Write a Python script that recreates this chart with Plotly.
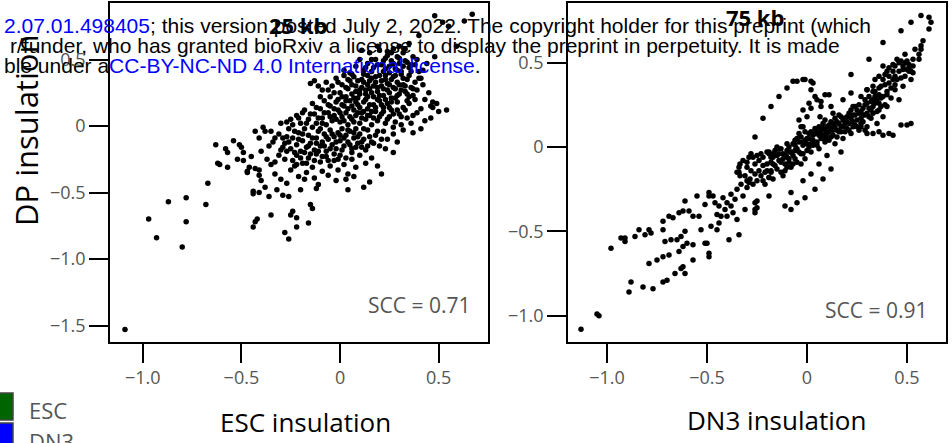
import plotly.graph_objects as go

# ---------------- data ----------------
# Panel 1: 25 kb, x = ESC insulation, y = DP insulation
p25_tail = [(-1.09,-1.53),(-0.97,-0.70),(-0.93,-0.84),(-0.87,-0.57),(-0.80,-0.91),(-0.78,-0.54),(-0.78,-0.72),
    (-0.68,-0.59),(-0.67,-0.43),(-0.63,-0.14),(-0.62,-0.28),(-0.61,-0.29),(-0.58,-0.17),(-0.57,-0.20),(-0.57,-0.31),
    (-0.54,-0.11),(-0.51,-0.14),(-0.50,-0.16),(-0.49,-0.20),(-0.52,-0.25),(-0.49,-0.26),(-0.47,-0.35),
    (-0.44,-0.76),(-0.43,-0.72),(-0.42,-0.70),(-0.44,-0.49),(-0.44,-0.51),(-0.43,-0.04),(-0.45,-0.23),(-0.41,-0.09),
    (-0.43,-0.32),(-0.41,-0.37),(-0.40,-0.41),(-0.38,-0.46),(-0.35,-0.67),(-0.28,-0.80),(-0.26,-0.85),(-0.25,-0.67),
    (-0.24,-0.64),(-0.22,-0.69),(-0.22,-0.76),(-0.16,-0.73),(-0.15,-0.59),(-0.14,-0.62),
    (0.04,-0.48),(0.12,-0.46),(0.15,-0.42),(0.21,-0.36),(0.27,-0.20),(0.37,-0.05),(0.41,-0.02),(0.46,0.06),
    (0.50,0.11),(0.47,0.18),(0.41,0.13),(0.46,0.15),(0.32,-0.03),(0.38,0.20),(0.37,0.28)]
p25_left = [(-0.39,-0.01),(-0.38,-0.04),(-0.35,-0.04),(-0.33,-0.09),(-0.36,-0.15),(-0.40,-0.19),(-0.37,-0.25),
    (-0.46,-0.31),(-0.47,-0.34),(-0.41,-0.33),(-0.35,-0.29),(-0.33,-0.36),(-0.32,-0.48),(-0.30,-0.40),(-0.27,-0.43),
    (-0.26,-0.53),(-0.29,-0.52),(-0.36,-0.53),(-0.41,-0.50),(-0.31,-0.22),(-0.29,-0.16),(-0.27,-0.08),(-0.30,0.02),
    (-0.25,0.05),(-0.23,-0.30),(-0.20,-0.48),(-0.12,-0.47),(-0.11,-0.44),(-0.02,-0.41),(0.03,-0.40)]
p25_low = [(-0.28,-0.25),(-0.25,-0.33),(-0.22,-0.22),(-0.21,-0.38),(-0.19,-0.28),(-0.17,-0.35),(-0.16,-0.24),
    (-0.14,-0.31),(-0.13,-0.39),(-0.12,-0.21),(-0.10,-0.27),(-0.09,-0.34),(-0.07,-0.23),(-0.06,-0.37),(-0.05,-0.30),
    (-0.03,-0.26),(-0.01,-0.33),(0.00,-0.22),(0.02,-0.29),(0.04,-0.36),(0.06,-0.25),(0.08,-0.31),(0.10,-0.22),
    (0.13,-0.28),(0.16,-0.24),(0.19,-0.30),(-0.33,-0.27),(-0.18,-0.40),(0.07,-0.38)]
p25_mid = [(-0.34,-0.12),(-0.31,-0.06),(-0.30,-0.18),(-0.28,-0.13),(-0.26,-0.02),(-0.25,-0.17),(-0.24,-0.09),
    (-0.22,-0.14),(-0.21,-0.05),(-0.20,-0.19),(-0.19,-0.11),(-0.18,-0.02),(-0.17,-0.16),(-0.16,-0.07),(-0.15,-0.13),
    (-0.14,-0.01),(-0.13,-0.18),(-0.12,-0.09),(-0.11,-0.04),(-0.10,-0.15),(-0.09,-0.12),(-0.08,-0.06),(-0.07,-0.19),
    (-0.06,-0.10),(-0.05,-0.03),(-0.04,-0.14),(-0.03,-0.08),(-0.02,-0.17),(-0.01,-0.05),(0.00,-0.11),(0.01,-0.02),
    (0.02,-0.15),(0.03,-0.07),(0.04,-0.12),(0.05,-0.04),(0.06,-0.17),(0.07,-0.09),(0.08,-0.02),(0.09,-0.13),
    (0.10,-0.06),(0.12,-0.10),(0.13,-0.18),(0.14,-0.03),(0.16,-0.12),(0.18,-0.07),(0.20,-0.15),(0.22,-0.04),
    (0.24,-0.10),(0.27,-0.06),(0.29,-0.12),(-0.23,-0.20),(0.11,-0.16)]
p25_up = [(-0.27,0.03),(-0.22,0.08),(-0.20,0.02),(-0.18,0.12),(-0.16,0.05),(-0.14,0.17),(-0.13,0.09),(-0.12,0.02),
    (-0.10,0.13),(-0.09,0.06),(-0.08,0.19),(-0.07,0.01),(-0.06,0.10),(-0.05,0.15),(-0.04,0.04),(-0.03,0.08),
    (-0.02,0.18),(-0.01,0.12),(0.00,0.03),(0.01,0.07),(0.02,0.15),(0.03,0.10),(0.04,0.01),(0.05,0.19),(0.06,0.05),
    (0.07,0.12),(0.08,0.08),(0.09,0.16),(0.10,0.02),(0.11,0.10),(0.12,0.18),(0.13,0.05),(0.14,0.13),(0.15,0.08),
    (0.16,0.01),(0.17,0.16),(0.18,0.11),(0.19,0.04),(0.20,0.19),(0.21,0.09),(0.22,0.14),(0.23,0.02),(0.24,0.17),
    (0.25,0.07),(0.26,0.12),(0.28,0.03),(0.29,0.18),(0.30,0.09),(0.32,0.14),(0.34,0.06),(0.35,0.17),(0.36,0.02),
    (0.39,0.10),(0.43,0.04),(0.31,0.01),(0.27,-0.01)]
p25_high = [(-0.15,0.32),(-0.13,0.34),(-0.11,0.30),(-0.09,0.27),(-0.07,0.33),(-0.05,0.22),(-0.04,0.30),(-0.02,0.36),
    (0.00,0.25),(0.01,0.31),(0.02,0.38),(0.03,0.22),(0.04,0.28),(0.05,0.34),(0.06,0.24),(0.07,0.37),(0.08,0.30),
    (0.09,0.21),(0.10,0.27),(0.11,0.35),(0.12,0.39),(0.13,0.24),(0.14,0.31),(0.15,0.28),(0.16,0.36),(0.17,0.22),
    (0.18,0.33),(0.19,0.26),(0.20,0.38),(0.21,0.30),(0.22,0.23),(0.23,0.35),(0.24,0.27),(0.25,0.31),(0.26,0.21),
    (0.27,0.37),(0.28,0.28),(0.29,0.33),(0.30,0.24),(0.31,0.39),(0.32,0.31),(0.33,0.26),(0.34,0.35),(0.35,0.22),
    (0.37,0.23),(0.40,0.36),(0.41,0.36),(0.42,0.31),(0.45,0.25),(0.49,0.17),(0.47,0.14),(0.43,0.20),(0.54,0.12),
    (-0.10,0.22),(0.06,0.39),(0.14,0.38)]
p25_top = [(0.08,0.45),(0.10,0.50),(0.12,0.42),(0.14,0.47),(0.15,0.55),(0.17,0.44),(0.18,0.50),(0.20,0.57),
    (0.21,0.46),(0.22,0.41),(0.24,0.53),(0.25,0.45),(0.26,0.49),(0.27,0.58),(0.28,0.43),(0.29,0.52),(0.30,0.47),
    (0.31,0.41),(0.32,0.55),(0.33,0.49),(0.35,0.44),(0.36,0.46),(0.37,0.52),(0.39,0.50),(0.40,0.41),(0.42,0.42),
    (0.44,0.47),(0.48,0.52),(0.05,0.40),(0.02,0.42),(0.19,0.60),(0.11,0.57),
    (0.67,0.84),(0.63,0.79),(0.48,0.83),(0.52,0.78),(0.55,0.75),(0.40,0.68),(0.35,0.62),(0.59,0.60),(0.33,0.58),
    (0.30,0.60),(0.26,0.55),(0.23,0.51)]
p25_core = [(-0.29,-0.09),(-0.27,-0.19),(-0.26,-0.12),(-0.24,-0.26),(-0.23,-0.04),(-0.22,-0.29),(-0.21,-0.10),
    (-0.20,-0.24),(-0.19,-0.06),(-0.18,-0.20),(-0.17,-0.28),(-0.16,-0.15),(-0.15,-0.21),(-0.14,-0.09),(-0.13,-0.26),
    (-0.12,-0.13),(-0.11,-0.19),(-0.10,-0.02),(-0.09,-0.23),(-0.08,-0.15),(-0.07,-0.08),(-0.06,-0.26),(-0.05,-0.17),
    (-0.04,-0.06),(-0.03,-0.21),(-0.02,-0.12),(-0.01,-0.25),(0.00,-0.07),(0.01,-0.18),(0.02,-0.09),(0.03,-0.24),
    (0.04,-0.03),(0.05,-0.14),(0.06,-0.20),(0.07,-0.05),(0.08,-0.16),(0.09,-0.08),(0.11,-0.12),(0.12,-0.02),
    (0.14,-0.15),(0.15,-0.08),(0.17,-0.13),(0.19,-0.04),(0.21,-0.10),(0.23,-0.17),
    (-0.24,0.01),(-0.21,0.06),(-0.19,0.10),(-0.17,0.02),(-0.15,0.09),(-0.12,0.14),(-0.11,0.06),(-0.09,0.02),
    (-0.08,0.10),(-0.06,0.16),(-0.05,0.07),(-0.03,0.13),(-0.02,0.05),(-0.01,0.20),(0.00,0.10),(0.01,0.16),
    (0.02,0.04),(0.03,0.19),(0.04,0.13),(0.05,0.07),(0.06,0.15),(0.07,0.03),(0.08,0.18),(0.09,0.10),(0.10,0.14),
    (0.11,0.06),(0.12,0.11),(0.13,0.20),(0.14,0.08),(0.15,0.16),(0.16,0.11),(0.17,0.06),(0.18,0.14),(0.19,0.20),
    (0.20,0.07),(0.21,0.16),(0.22,0.11),(0.23,0.20),(0.24,0.05),(0.25,0.14),(0.26,0.18),(0.27,0.09),(0.28,0.21),
    (0.29,0.12),(0.31,0.07),(0.33,0.12),(0.34,0.19),(0.37,0.08),
    (-0.06,0.27),(-0.03,0.25),(-0.01,0.33),(0.01,0.22),(0.03,0.29),(0.04,0.35),(0.06,0.31),(0.07,0.21),(0.08,0.26),
    (0.09,0.34),(0.10,0.24),(0.11,0.29),(0.12,0.33),(0.13,0.27),(0.14,0.22),(0.15,0.34),(0.16,0.25),(0.17,0.30),
    (0.18,0.37),(0.19,0.29),(0.20,0.23),(0.21,0.34),(0.22,0.28),(0.23,0.38),(0.24,0.32),(0.25,0.25),(0.26,0.35),
    (0.27,0.29),(0.28,0.38),(0.29,0.23),(0.30,0.31),(0.31,0.27),(0.32,0.36),(0.33,0.30),(0.34,0.24),(0.35,0.38),
    (0.36,0.29),(0.38,0.33),(0.39,0.27),
    (0.13,0.44),(0.16,0.41),(0.19,0.46),(0.22,0.49),(0.23,0.43),(0.25,0.40),(0.27,0.47),(0.29,0.42),(0.30,0.51),
    (0.32,0.45),(0.34,0.48),(0.36,0.41),(0.38,0.46),(0.24,0.56),(0.16,0.50)]

# Panel 2: 75 kb, x = DN3 insulation, y = DP insulation
p75_tail = [(-1.13,-1.08),(-1.05,-0.99),(-1.04,-1.00),(-0.98,-0.60),(-0.93,-0.54),(-0.91,-0.54),(-0.91,-0.56),
    (-0.89,-0.86),(-0.88,-0.80),(-0.86,-0.53),(-0.84,-0.49),(-0.81,-0.52),(-0.79,-0.49),(-0.78,-0.51),(-0.82,-0.83),
    (-0.77,-0.84),(-0.79,-0.69),(-0.75,-0.67),(-0.72,-0.65),(-0.69,-0.64),(-0.72,-0.80),(-0.70,-0.79),(-0.66,-0.75),
    (-0.63,-0.72),(-0.61,-0.75),(-0.62,-0.71),(-0.72,-0.44),(-0.72,-0.49),(-0.69,-0.41),(-0.67,-0.42),(-0.64,-0.39),
    (-0.62,-0.38),(-0.61,-0.32),(-0.59,-0.38),(-0.57,-0.41),(-0.55,-0.29),(-0.54,-0.41),(-0.51,-0.34),(-0.49,-0.29),
    (-0.49,-0.27),(-0.47,-0.29),(-0.71,-0.56),(-0.68,-0.55),(-0.65,-0.55),(-0.63,-0.53),(-0.61,-0.50),(-0.64,-0.62),
    (-0.62,-0.59),(-0.60,-0.57),(-0.57,-0.58),(-0.57,-0.67),(-0.53,-0.49),(-0.51,-0.57),(-0.49,-0.63),(-0.49,-0.65),
    (-0.50,-0.57),(-0.48,-0.47),(-0.45,-0.49),(-0.44,-0.45),(-0.43,-0.41),(-0.44,-0.35),(-0.40,-0.41),(-0.37,-0.39),
    (-0.35,-0.43),(-0.39,-0.55),(-0.34,-0.52),(-0.31,-0.37),(-0.26,-0.33),(-0.26,-0.37),(-0.26,-0.39),(-0.32,-0.29),
    (-0.30,-0.24),(-0.29,-0.21),(-0.46,-0.33),(-0.42,-0.30),(-0.40,-0.33),(-0.38,-0.28),(-0.36,-0.31),(-0.41,-0.37),
    (-0.45,-0.40),(-0.35,-0.25),(-0.33,-0.22),(-0.38,-0.35)]
p75_loop = [(-0.35,-0.15),(-0.34,-0.12),(-0.335,-0.10),(-0.32,-0.08),(-0.29,-0.06),(-0.28,-0.04),(-0.25,-0.05),
    (-0.23,-0.04),(-0.20,-0.03),(-0.18,-0.06),(-0.17,-0.10),(-0.18,-0.15),(-0.19,-0.18),(-0.22,-0.20),(-0.25,-0.20),
    (-0.285,-0.19),(-0.31,-0.17),(-0.335,-0.17),(-0.30,-0.12),(-0.26,-0.10),(-0.24,-0.14),(-0.34,-0.15),(-0.30,-0.09),
    (-0.27,-0.06),(-0.19,-0.04),(-0.17,-0.04),(-0.15,0.00),(-0.105,-0.05),(-0.085,-0.03),(-0.10,0.02),(-0.06,0.04),
    (-0.04,0.08),(-0.02,0.12)]
p75_band = [(-0.20,-0.10),(-0.19,-0.03),(-0.18,-0.14),(-0.17,-0.06),(-0.16,-0.11),(-0.15,-0.01),(-0.14,-0.08),
    (-0.13,-0.15),(-0.12,-0.04),(-0.11,-0.10),(-0.10,-0.06),(-0.09,0.00),(-0.08,-0.12),(-0.07,-0.05),(-0.06,-0.02),
    (-0.05,-0.09),(-0.04,0.03),(-0.03,-0.04),(-0.02,0.01),(-0.01,-0.07),(0.00,0.05),(0.01,0.00),(0.02,-0.03),
    (0.03,0.07),(0.04,0.02),(0.05,0.09),(0.06,-0.01),(0.07,0.05),(0.08,0.11),(0.09,0.03),(0.10,0.08),(0.11,0.13),
    (0.12,0.06),(0.13,0.10),(0.14,0.02),(0.15,0.15),(0.16,0.09),(0.17,0.12),(0.18,0.05),(0.19,0.17),(0.20,0.11),
    (0.21,0.14),(0.22,0.08),(0.23,0.19),(0.24,0.13),(0.25,0.16),(0.26,0.10),(0.27,0.21),(0.28,0.15),(0.29,0.19),
    (0.30,0.12),(0.31,0.23),(0.32,0.17),(0.33,0.20),(0.34,0.26),(0.35,0.14),(0.36,0.22),(0.37,0.29),(0.38,0.18),
    (0.39,0.25),(0.40,0.31),(-0.22,-0.06),(-0.21,-0.15),(-0.19,-0.18),(-0.15,-0.05),(-0.13,-0.01),(-0.11,-0.14),
    (-0.09,-0.07),(-0.07,0.02),(-0.05,-0.01),(-0.03,-0.10),(-0.01,0.04),(0.01,0.08),(0.03,0.01),(0.05,0.03),
    (0.07,0.10),(0.09,0.07),(0.11,0.04),(0.13,0.14),(0.15,0.06),(0.17,0.18),(0.19,0.09),(0.21,0.20),(0.23,0.12),
    (0.25,0.22),(0.27,0.14),(0.29,0.25),(0.31,0.18),(0.33,0.28),(0.35,0.21),(0.37,0.24)]
p75_band2 = [(-0.30,-0.20),(-0.28,-0.14),(-0.27,-0.22),(-0.26,-0.16),(-0.24,-0.08),(-0.23,-0.17),(-0.22,-0.11),
    (-0.21,-0.22),(-0.20,-0.14),(-0.18,-0.09),(-0.17,-0.19),(-0.16,-0.02),(-0.15,-0.13),(-0.14,-0.04),(-0.13,-0.09),
    (-0.12,-0.17),(-0.12,-0.07),(-0.10,-0.12),(-0.10,-0.02),(-0.09,-0.09),(-0.08,-0.03),(-0.07,-0.10),(-0.06,0.01),
    (-0.06,-0.07),(-0.05,0.05),(-0.04,-0.03),(-0.03,0.06),(-0.02,-0.04),(-0.02,0.03),(-0.01,0.09),(0.00,-0.02),
    (0.00,0.02),(0.01,0.05),(0.02,0.09),(0.02,0.02),(0.03,0.04),(0.04,0.08),(0.04,0.11),(0.05,0.01),(0.06,0.07),
    (0.06,0.12),(0.07,0.08),(0.08,0.05),(0.08,0.14),(0.09,0.10),(0.10,0.12),(0.10,0.05),(0.11,0.09),(0.12,0.15),
    (0.12,0.11),(0.13,0.07),(0.14,0.12),(0.14,0.17),(0.15,0.10),(0.16,0.14),(0.16,0.19),(0.17,0.09),(0.18,0.16),
    (0.18,0.12),(0.19,0.14),(0.20,0.18),(0.20,0.15),(0.21,0.10),(0.22,0.17),(0.22,0.22),(0.23,0.15),(0.24,0.19),
    (0.24,0.24),(0.25,0.12),(0.26,0.20),(0.26,0.25),(0.27,0.17),(0.28,0.23),(0.28,0.19),(0.29,0.28),(0.30,0.20),
    (0.30,0.26),(0.31,0.30),(0.32,0.22),(0.32,0.27),(0.33,0.24),(0.34,0.33),(0.35,0.28),(0.36,0.35),(0.36,0.26),
    (0.38,0.30),(0.39,0.37),(0.41,0.42),(0.42,0.35),(0.43,0.40),(0.44,0.37),(0.46,0.45),(0.47,0.41),(0.48,0.46),
    (0.49,0.50),(0.51,0.49),(0.53,0.48)]
p75_low = [(-0.11,-0.35),(-0.08,-0.27),(-0.05,-0.33),(-0.01,-0.30),(0.04,-0.25),(0.08,-0.19),(0.12,-0.13),
    (0.17,-0.03),(-0.08,-0.37),(-0.19,-0.29),(-0.25,-0.32),(-0.25,-0.36),(0.02,-0.16),(0.06,-0.10),(0.10,-0.05),
    (-0.02,-0.20),(0.33,0.08),(0.36,0.09),(0.38,0.07),(0.41,0.08),(0.43,0.07),(0.47,0.13),(0.50,0.13),(0.52,0.14),
    (0.30,0.08),(0.29,0.10),(0.27,0.12)]
p75_arc = [(-0.26,0.06),(-0.22,0.17),(-0.18,0.24),(-0.14,0.30),(-0.10,0.35),(-0.07,0.39),(-0.05,0.39),(-0.02,0.40),
    (-0.01,0.40),(0.02,0.39),(0.03,0.38),(0.02,0.34),(0.04,0.30),(0.07,0.27),(0.07,0.24),(0.11,0.31),(-0.02,0.22),
    (0.01,0.26),(0.02,0.23),(0.05,0.28),(0.12,0.24),(0.13,0.20),(0.18,0.28),(0.22,0.32),(0.23,0.24),(0.27,0.30),
    (0.30,0.34),(0.33,0.36),(-0.04,0.16),(0.00,0.18),(-0.03,0.12),(0.09,0.31),(0.065,0.18),(0.09,0.16)]
p75_high = [(0.38,0.48),(0.40,0.45),(0.41,0.47),(0.43,0.49),(0.46,0.50),(0.48,0.48),(0.50,0.46),(0.51,0.45),
    (0.45,0.52),(0.43,0.45),(0.39,0.43),(0.36,0.42),(0.34,0.40),(0.38,0.40),(0.41,0.38),(0.37,0.36),(0.30,0.34),
    (0.34,0.30),(0.40,0.33),(0.44,0.34),(0.48,0.36),(0.40,0.24),(0.46,0.28),(0.42,0.29),(0.45,0.40),(0.49,0.42),
    (0.52,0.40),(0.53,0.44),(0.50,0.51),(0.44,0.42),(0.36,0.31),(0.33,0.33),
    (0.52,0.74),(0.57,0.78),(0.61,0.77),(0.62,0.74),(0.61,0.70),(0.47,0.69),(0.38,0.62),(0.31,0.52),(0.22,0.43),
    (0.58,0.63),(0.57,0.60),(0.57,0.58),(0.56,0.55),(0.56,0.52),(0.54,0.58),(0.51,0.47),(0.52,0.45),(0.47,0.51),
    (0.44,0.48),(0.49,0.55),(0.53,0.52)]

scc_values = ["0.71", "0.91"]
panel_titles = ["25 kb", "75 kb"]
x_titles = ["ESC insulation", "DN3 insulation"]
y_title = "DP insulation"
legend_labels = ["ESC", "DN3"]
legend_colors = ["#006400", "#0000FF"]
y1_ticks = [0.5, 0, -0.5, -1.0, -1.5]
y1_text = ["0.5", "0", "\u22120.5", "\u22121.0", "\u22121.5"]
y2_ticks = [0.5, 0, -0.5, -1.0]
y2_text = ["0.5", "0", "\u22120.5", "\u22121.0"]
x_ticks = [-1.0, -0.5, 0, 0.5]
x_text = ["\u22121.0", "\u22120.5", "0", "0.5"]

def unzip(*groups):
    xs, ys = [], []
    for g in groups:
        for a, b in g:
            xs.append(a); ys.append(b)
    return xs, ys

x25, y25 = unzip(p25_tail, p25_left, p25_low, p25_mid, p25_up, p25_high, p25_top, p25_core)
x75, y75 = unzip(p75_tail, p75_loop, p75_band, p75_band2, p75_low, p75_arc, p75_high)

W, H = 952, 443
def px(v): return v / W
def py(v): return 1 - v / H

FONT = "Open Sans"
GRAY = "#555555"

fig = go.Figure()
fig.add_trace(go.Scatter(x=x25, y=y25, mode="markers", xaxis="x", yaxis="y",
                         marker=dict(color="black", size=5.5), showlegend=False, hoverinfo="x+y"))
fig.add_trace(go.Scatter(x=x75, y=y75, mode="markers", xaxis="x2", yaxis="y2",
                         marker=dict(color="black", size=5.5), showlegend=False, hoverinfo="x+y"))

ax_common = dict(showgrid=False, zeroline=False, showline=True, mirror=True, linecolor="black",
                 linewidth=1.5, ticks="outside", ticklen=19, tickwidth=2, tickcolor="black",
                 tickfont=dict(family=FONT, size=18, color=GRAY))

fig.update_layout(
    width=W, height=H, margin=dict(l=0, r=0, t=0, b=0),
    paper_bgcolor="white", plot_bgcolor="white", showlegend=False,
    xaxis=dict(domain=[px(110), px(488)], range=[-1.166, 0.75], anchor="y",
               tickvals=x_ticks, ticktext=x_text, **ax_common),
    yaxis=dict(domain=[py(342), py(3)], range=[-1.624, 0.925], anchor="x",
               tickvals=y1_ticks, ticktext=y1_text, **ax_common),
    xaxis2=dict(domain=[px(568), px(946)], range=[-1.195, 0.695], anchor="y2",
                tickvals=x_ticks, ticktext=x_text, **ax_common),
    yaxis2=dict(domain=[py(342), py(3)], range=[-1.156, 0.854], anchor="x2",
                tickvals=y2_ticks, ticktext=y2_text, **ax_common),
)

ann = []
ann.append(dict(x=px(298), y=py(25), text="<b>%s</b>" % panel_titles[0], font=dict(family=FONT, size=22, color="black")))
ann.append(dict(x=px(755), y=py(17), text="<b>%s</b>" % panel_titles[1], font=dict(family=FONT, size=22, color="black")))
ann.append(dict(x=px(419), y=py(305), text="SCC = %s" % scc_values[0], font=dict(family=FONT, size=21, color=GRAY)))
ann.append(dict(x=px(876), y=py(310), text="SCC = %s" % scc_values[1], font=dict(family=FONT, size=21, color=GRAY)))
ann.append(dict(x=px(305), y=py(422), text=x_titles[0], font=dict(family=FONT, size=26, color="black")))
ann.append(dict(x=px(776), y=py(420), text=x_titles[1], font=dict(family=FONT, size=26, color="black")))
ann.append(dict(x=px(26), y=py(131), text=y_title, textangle=-90, font=dict(family=FONT, size=31, color="black")))
ann.append(dict(x=px(27), y=py(410), text=legend_labels[0], xanchor="left", font=dict(family=FONT, size=22, color=GRAY)))
ann.append(dict(x=px(27), y=py(441), text=legend_labels[1], xanchor="left", font=dict(family=FONT, size=22, color=GRAY)))
WM = "Liberation Sans"
ann.append(dict(x=px(873), y=py(25), xanchor="right",
                text="<span style='color:blue'>2.07.01.498405</span>; this version posted July 2, 2022. The copyright holder for this preprint (which",
                font=dict(family=WM, size=21, color="black")))
ann.append(dict(x=px(842), y=py(45), xanchor="right",
                text="r/funder, who has granted bioRxiv a license to display the preprint in perpetuity. It is made",
                font=dict(family=WM, size=21, color="black")))
ann.append(dict(x=px(483), y=py(65), xanchor="right",
                text="ble under a<span style='color:blue'>CC-BY-NC-ND 4.0 International license</span>.",
                font=dict(family=WM, size=21, color="black")))
for a in ann:
    a.setdefault("xref", "paper"); a.setdefault("yref", "paper")
    a.setdefault("showarrow", False)
    a.setdefault("xanchor", "center"); a.setdefault("yanchor", "middle")
fig.update_layout(annotations=ann)

shapes = []
for i, c in enumerate(legend_colors):
    top = 393 + i * 30
    shapes.append(dict(type="rect", xref="paper", yref="paper", x0=px(-14), x1=px(13),
                       y0=py(top + 27), y1=py(top), fillcolor=c, line=dict(color="#444444", width=1.5)))
fig.update_layout(shapes=shapes)

fig.write_html("out.html", config={"displayModeBar": False},
               post_script="document.body.style.margin='0';document.body.style.padding='0';")
